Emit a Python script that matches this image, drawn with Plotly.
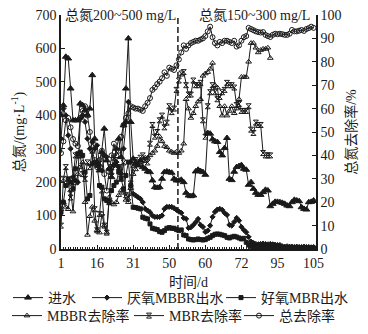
import plotly.graph_objects as go

# Sample number (one sample per sampling occasion) and the day labels shown on the axis
sample_no = list(range(1, 107))
tick_samples = [1, 16, 31, 46, 61, 76, 91, 106]
tick_days = ["1", "16", "31", "50", "60", "72", "95", "105"]
phase_switch_sample = 49.6

# Total nitrogen, mg/L
influent = [400, 430, 575, 570, 480, 385, 385, 385, 435, 430, 415, 400, 420, 520, 330, 260, 235, 290, 360, 265,
            240, 215, 250, 300, 330, 275, 370, 480, 630, 380, 270, 255, 250, 265, 245, 240, 232, 230, 205, 185,
            183, 185, 210, 230, 232, 230, 228, 210, 205, 205, 207, 200, 168, 160, 158, 160, 232, 237, 233, 230,
            222, 347, 345, 328, 322, 320, 290, 280, 302, 332, 210, 206, 231, 245, 248, 251, 240, 237, 192, 200,
            180, 168, 162, 162, 170, 177, 175, 128, 135, 141, 141, 140, 138, 135, 130, 128, 140, 147, 145, 143,
            125, 120, 118, 140, 141, 145]
anoxic_mbbr_out = [330, 420, 400, 340, 300, 215, 205, 200, 390, 400, 380, 330, 300, 320, 300, 310, 250, 235, 280, 275,
                   240, 225, 250, 260, 245, 225, 300, 380, 440, 260, 165, 160, 155, 150, 140, 120, 115, 110, 100, 96,
                   96, 96, 100, 120, 126, 126, 126, 122, 117, 112, 108, 93, 90, 63, 65, 72, 80, 90, 72, 66,
                   51, 55, 70, 96, 111, 118, 120, 117, 108, 102, 72, 70, 81, 93, 85, 66, 57, 50, 36, 22,
                   18, 15, 14, 15, 16, 15, 14, 15, 14, 13, 12, 12, 8, 7, 8, 7, 7, 6, 7, 6,
                   6, 7, 6, 6, 5, 6]
aerobic_mbr_out = [110, 140, 190, 210, 200, 180, 240, 285, 290, 280, 230, 150, 160, 255, 260, 250, 190, 185, 150, 145,
                   140, 175, 190, 200, 230, 210, 180, 220, 260, 190, 125, 124, 122, 120, 95, 92, 90, 75, 62, 60,
                   58, 52, 50, 55, 62, 64, 62, 62, 58, 55, 57, 42, 40, 30, 28, 27, 28, 30, 28, 27,
                   28, 32, 35, 40, 44, 45, 44, 42, 40, 35, 33, 36, 38, 36, 33, 30, 32, 20, 12, 8,
                   6, 5, 5, 4, 5, 4, 5, 4, 4, 3, 4, 4, 3, 4, 3, 3, 4, 3, 3, 3,
                   4, 3, 3, 3, 3, 3]

# Removal efficiency, %
mbbr_removal = [17, 20, 18, 17, 25, 16, 28, 32, 35, 37, 20, 6, 14, 18, 12, 8, 7, 15, 10, 7,
                22, 20, 19, 20, 23, 25, 24, 21, 20, 26, 32, 34, 36, 37, 38, 39, 39, 40, 41, 42,
                44, 48, 46, 44, 43.5, 42, 41.5, 41, 41.5, 41, 42, 45, 64, 60, 56, 58, 61, 63, 64, 74,
                75, 75.6, 77, 79.5, 70, 69, 61, 57, 61, 57, 59, 61, 58, 60, 64, 73.5, 73.5, 73.5, 80, 88,
                88, 86, 84, 85, 85.5, 85.5, 86, 81.6]
mbr_removal = [10, 30, 35, 28, 22, 30, 40, 40, 40, 32, 30, 37, 35, 42, 17, 8, 15, 25, 10, 7,
               20, 35, 39, 38, 35, 30, 37, 23, 22, 28, 36, 38, 37, 39, 40, 38, 37, 45, 53, 48,
               50, 55, 57, 52, 54, 61, 58.5, 60, 68, 72, 75, 75.6, 70, 66, 66, 72, 70, 70, 71, 55,
               48, 61, 67, 70, 67, 64, 65, 67, 68, 71, 70, 70, 69, 61.5, 62, 59, 59, 59, 61, 51,
               49.6, 54, 53, 53, 41, 40, 40, 40]
total_removal = [41, 46, 55, 56, 52, 47, 45, 44, 56, 59, 61, 57, 50, 42, 38, 35, 38, 42, 32, 25,
                 33, 40, 45, 40, 42, 48, 53, 56, 58, 61, 60.5, 60, 60, 59.5, 59, 61, 62.5, 64.5, 68, 69,
                 70.5, 71.5, 73, 75.5, 74, 77.5, 77, 76.5, 78.5, 81, 84, 87, 85.5, 87, 88, 88.5, 89, 89, 89.5, 90,
                 91, 93, 95, 90.5, 88, 87, 88.5, 88, 89, 89, 88.5, 88, 89, 86.5, 87, 89, 90.5, 91, 94.5, 94,
                 93.5, 93, 92.7, 92.5, 92.7, 91.5, 91, 90.6, 91.5, 92, 91.8, 92, 91.8, 91.5, 91.5, 92, 93.6, 93, 93, 93.3,
                 93.6, 93.2, 94, 94.4, 95, 94.5]

SERIF = "Liberation Serif, Noto Sans CJK SC, serif"
INK = "#1a1a1a"
FS = 14
W, H = 368, 334

fig = go.Figure()

# Each series gets its own legend box so the two legend rows can be laid out freely:
# (legend id, left edge in px, row centre in px from the top)
legend_slots = []


def add_series(name, values, symbol, size, axis, left_px, row_px):
    legend_id = "legend" if not legend_slots else f"legend{len(legend_slots) + 1}"
    legend_slots.append((legend_id, left_px, row_px))
    fig.add_trace(go.Scatter(
        x=sample_no[:len(values)], y=values, name=name, mode="lines+markers",
        line=dict(color=INK, width=1),
        marker=dict(symbol=symbol, size=size, color=INK, line=dict(color=INK, width=1)),
        yaxis=axis, legend=legend_id,
    ))


# Nitrogen concentrations on the left axis, removal rates on the right axis
add_series("进水", influent, "triangle-up", 6, "y", 8, 298)
add_series("厌氧MBBR出水", anoxic_mbbr_out, "diamond", 4, "y", 87, 298)
add_series("好氧MBR出水", aerobic_mbr_out, "square", 4, "y", 221, 298)
add_series("MBBR去除率", mbbr_removal, "triangle-up-open", 5, "y2", 7, 316)
add_series("MBR去除率", mbr_removal, "hourglass-open", 5, "y2", 129, 316)
add_series("总去除率", total_removal, "circle-open", 5, "y2", 239, 316)

# Boundary between the two influent-concentration phases
fig.add_shape(type="line", xref="x", yref="paper", x0=phase_switch_sample, x1=phase_switch_sample,
              y0=0, y1=1, line=dict(color=INK, width=1.5, dash="6px,3px"))

text_font = dict(family=SERIF, size=FS, color=INK)
fig.add_annotation(text="总氮200~500 mg/L", xref="paper", yref="paper", x=0.235, y=1.0,
                   xanchor="center", yanchor="middle", showarrow=False, font=text_font)
fig.add_annotation(text="总氮150~300 mg/L", xref="paper", yref="paper", x=0.76, y=1.0,
                   xanchor="center", yanchor="middle", showarrow=False, font=text_font)
# x-axis caption, set below the tick labels
fig.add_annotation(text="时间/d", xref="paper", yref="paper", x=0.5, y=-0.145,
                   xanchor="center", yanchor="middle", showarrow=False, font=text_font)

axis_common = dict(showline=True, linecolor=INK, linewidth=1.5, ticks="inside", tickcolor=INK,
                   ticklen=4, showgrid=False, zeroline=False, automargin=False,
                   tickfont=text_font)

legends = {}
for legend_id, left_px, row_px in legend_slots:
    legends[legend_id] = dict(orientation="h", xref="container", yref="container",
                              x=left_px / W, xanchor="left", y=1 - row_px / H, yanchor="middle",
                              font=text_font, itemwidth=30,
                              bgcolor="rgba(0,0,0,0)", borderwidth=0)

fig.update_layout(
    template="none",
    width=W, height=H,
    margin=dict(l=61, r=52, t=15, b=85),
    paper_bgcolor="white", plot_bgcolor="white",
    font=dict(family=SERIF, color=INK),
    showlegend=True,
    xaxis=dict(range=[1, 107], tickmode="array", tickvals=tick_samples, ticktext=tick_days,
               minor=dict(tickmode="linear", tick0=1, dtick=1, ticks="inside", ticklen=2, tickcolor=INK),
               **axis_common),
    yaxis=dict(range=[0, 700], dtick=100,
               title=dict(text="总氮/(mg·L<sup>-1</sup>)", font=text_font, standoff=8),
               **axis_common),
    yaxis2=dict(range=[0, 100], dtick=10, overlaying="y", side="right", anchor="x",
                title=dict(text="总氮去除率/%", font=text_font, standoff=6),
                **axis_common),
    **legends,
)

fig.write_html("out.html")
